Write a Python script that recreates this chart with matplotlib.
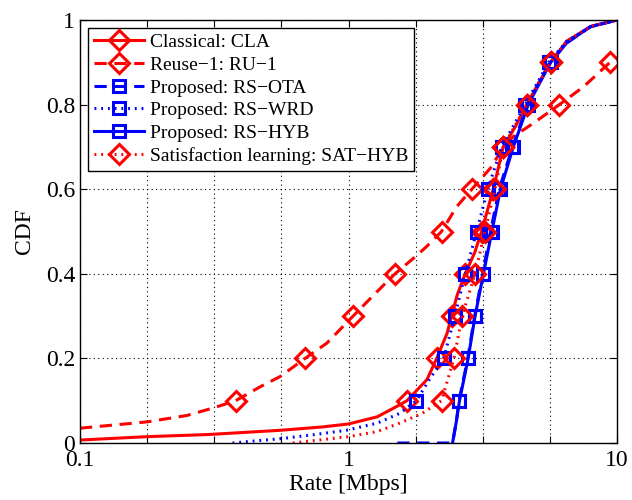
import numpy as np
import matplotlib
matplotlib.use('Agg')
import matplotlib.pyplot as plt
from matplotlib.ticker import FixedLocator, NullFormatter

plt.rcParams['font.family'] = ['Liberation Serif', 'DejaVu Serif']
plt.rcParams['mathtext.fontset'] = 'stix'

# Classical: CLA
cla_rate = [0.1, 0.178, 0.3, 0.556, 0.8, 1.0, 1.28, 1.55, 1.65, 1.96, 2.13, 2.33, 2.42,
            2.54, 2.72, 2.95, 3.13, 3.46, 3.77, 4.2, 4.61, 5.1, 5.66, 6.5, 8.0, 10]
cla_cdf = [0.007, 0.015, 0.02, 0.03, 0.038, 0.045, 0.062, 0.09, 0.1, 0.15, 0.2, 0.26, 0.3,
           0.35, 0.4, 0.45, 0.5, 0.6, 0.7, 0.75, 0.8, 0.85, 0.9, 0.95, 0.985, 1.0]

# Reuse-1: RU-1
ru1_rate = [0.1, 0.178, 0.25, 0.314, 0.38, 0.469, 0.556, 0.689, 0.83, 1.04, 1.26, 1.49,
            1.77, 1.95, 2.22, 2.53, 2.88, 3.41, 3.77, 4.1, 4.88, 6.1, 7.5, 9.42, 10]
ru1_cdf = [0.035, 0.05, 0.065, 0.083, 0.1, 0.133, 0.157, 0.2, 0.236, 0.3, 0.354, 0.4,
           0.44, 0.464, 0.5, 0.559, 0.6, 0.653, 0.7, 0.724, 0.756, 0.8, 0.842, 0.9, 0.905]

# Proposed: RS-OTA
ota_rate = [1.52, 2.44, 2.52, 2.58, 2.78, 2.95, 3.16, 3.38, 3.64, 4.08, 4.64, 5.62, 6.5, 7.95, 10]
ota_cdf = [0.0, 0.0, 0.05, 0.1, 0.2, 0.3, 0.4, 0.5, 0.6, 0.7, 0.8, 0.9, 0.946, 0.984, 1.0]

# Proposed: RS-WRD
wrd_rate = [0.37, 0.45, 0.556, 0.75, 0.98, 1.28, 1.55, 1.79, 2.0, 2.26, 2.49, 2.72, 3.0,
            3.3, 3.72, 4.55, 5.57, 6.5, 8.0, 10]
wrd_cdf = [0.0, 0.005, 0.01, 0.02, 0.03, 0.047, 0.07, 0.1, 0.15, 0.2, 0.3, 0.4, 0.5,
           0.6, 0.7, 0.8, 0.9, 0.95, 0.985, 1.0]

# Proposed: RS-HYB
hyb_rate = [2.44, 2.52, 2.59, 2.79, 2.96, 3.18, 3.42, 3.68, 4.11, 4.67, 5.66, 6.5, 7.95, 10]
hyb_cdf = [0.0, 0.05, 0.1, 0.2, 0.3, 0.4, 0.5, 0.6, 0.7, 0.8, 0.9, 0.946, 0.984, 1.0]

# Satisfaction learning: SAT-HYB
sat_rate = [0.62, 0.8, 1.0, 1.28, 1.55, 1.88, 2.22, 2.47, 2.65, 2.96, 3.22, 3.51, 3.77,
            4.61, 5.66, 6.5, 8.0, 10]
sat_cdf = [0.0, 0.008, 0.015, 0.027, 0.047, 0.07, 0.1, 0.2, 0.3, 0.4, 0.5, 0.6, 0.7,
           0.8, 0.9, 0.95, 0.985, 1.0]

marker_levels = [0.1, 0.2, 0.3, 0.4, 0.5, 0.6, 0.7, 0.8, 0.9]


def mark_idx(cdf):
    cdf = np.asarray(cdf)
    return [i for i, c in enumerate(cdf) if np.any(np.isclose(c, marker_levels))]


fig = plt.figure(figsize=(6.32, 5.0), dpi=100)
ax = fig.add_axes([0.1266, 0.114, 0.8497, 0.846])

lw = 2.2
mew = 2.2
series = [
    (cla_rate, cla_cdf, '-', 'D', 'red', 'Classical: CLA'),
    (ru1_rate, ru1_cdf, (0, (4, 2.5)), 'D', 'red', 'Reuse\u22121: RU\u22121'),
    (ota_rate, ota_cdf, (0, (4, 2.5)), 's', 'blue', 'Proposed: RS\u2212OTA'),
    (wrd_rate, wrd_cdf, (0, (0.6, 1.6)), 's', 'blue', 'Proposed: RS\u2212WRD'),
    (hyb_rate, hyb_cdf, '-', 's', 'blue', 'Proposed: RS\u2212HYB'),
    (sat_rate, sat_cdf, (0, (0.6, 1.6)), 'D', 'red', 'Satisfaction learning: SAT\u2212HYB'),
]
for rate, cdf, ls, mk, col, lab in series:
    ms = 10.5 if mk == 'D' else 9
    ax.plot(rate, cdf, linestyle=ls, color=col, lw=lw, marker=mk, ms=ms,
            mfc='none', mec=col, mew=mew, markevery=mark_idx(cdf), label=lab)

ax.set_xscale('log')
ax.set_xlim(0.1, 10)
ax.set_ylim(0, 1)
ax.xaxis.set_major_locator(FixedLocator([0.1, 1, 10]))
ax.set_xticklabels(['0.1', '1', '10'])
quarter = [10 ** (e / 4) for e in range(-4, 5) if e % 4 != 0]
ax.xaxis.set_minor_locator(FixedLocator(quarter))
ax.xaxis.set_minor_formatter(NullFormatter())
ax.set_yticks([0, 0.2, 0.4, 0.6, 0.8, 1.0])
ax.set_yticklabels(['0', '0.2', '0.4', '0.6', '0.8', '1'])

ax.grid(True, which='both', axis='x', color='black', linestyle=(0, (1, 3)), lw=0.8)
ax.grid(True, which='major', axis='y', color='black', linestyle=(0, (1, 3)), lw=0.8)
ax.tick_params(which='both', direction='in', top=True, right=True, labelsize=17,
               length=5, width=0.8)
ax.tick_params(which='minor', length=5)
ax.tick_params(axis='x', pad=5)
for s in ax.spines.values():
    s.set_linewidth(1.0)

ax.set_xlabel('Rate [Mbps]', fontsize=17, labelpad=2)
ax.set_ylabel('CDF', fontsize=17, labelpad=8)

leg = ax.legend(loc='upper left', fontsize=14, handlelength=2.6, handletextpad=0.3,
                labelspacing=0.26, borderpad=0.3, fancybox=False, framealpha=1,
                edgecolor='black', borderaxespad=0.4)
leg.get_frame().set_linewidth(1.0)

fig.savefig('out.png', dpi=100)
